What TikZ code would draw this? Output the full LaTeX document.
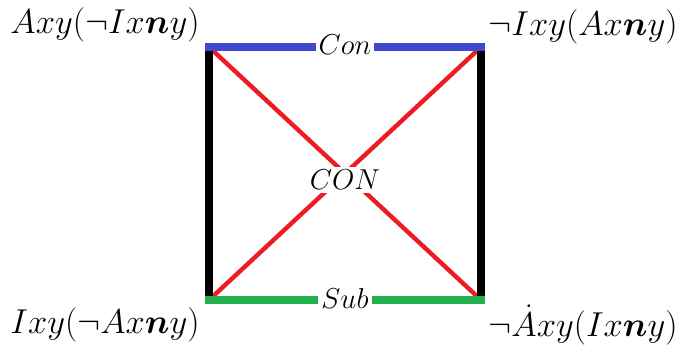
\documentclass[tikz,border=0pt]{standalone}
\usepackage{amsmath}
\usepackage{amssymb}
\usepackage{bm}
\usepackage{tikz}
\usetikzlibrary{positioning}
\definecolor{conBlue}{RGB}{64,72,204}
\definecolor{subGreen}{RGB}{34,177,76}
\definecolor{diagRed}{RGB}{237,28,36}
\tikzset{
  corner/.style = {inner sep=1pt, font=\fontsize{16}{19}\selectfont},
  tag/.style    = {fill=white, inner sep=1.5pt, font=\fontsize{15}{18}\selectfont},
  side/.style   = {line width=3.6pt, black},
  diag/.style   = {line width=2.2pt, diagRed}
}

\begin{document}
\begin{tikzpicture}[x=0.5pt, y=-0.5pt]
\useasboundingbox (0,0) rectangle (679,345);

% --- SQUARE CORNERS ---
\coordinate (tl) at (209,47);
\coordinate (tr) at (481,47);
\coordinate (bl) at (209,300);
\coordinate (br) at (481,300);

% --- DIAGONALS ---
\draw[diag] (tl) -- (br);
\draw[diag] (bl) -- (tr);

% --- SIDES ---
\draw[side] (tl) -- (bl);
\draw[side] (tr) -- (br);
\draw[line width=4pt, conBlue]  ([xshift=-2pt]tl) -- ([xshift=2pt]tr);
\draw[line width=4pt, subGreen] ([xshift=-2pt]bl) -- ([xshift=2pt]br);

% --- RELATION TAGS ---
\node[tag] (con) at (345,45)  {$Con$};
\node[tag] (sub) at (345,298) {$Sub$};
\node[tag] (CON) at (345,180) {$CON$};

% --- CORNER LABELS ---
\node[corner] (A) at (105,25)  {$Axy(\neg Ix\bm{n}y)$};
\node[corner] (E) at (583,27)  {$\neg Ixy(Ax\bm{n}y)$};
\node[corner] (I) at (105,325) {$Ixy(\neg Ax\bm{n}y)$};
\node[corner] (O) at (583,325) {$\neg\dot{A}xy(Ix\bm{n}y)$};
\end{tikzpicture}
\end{document}
